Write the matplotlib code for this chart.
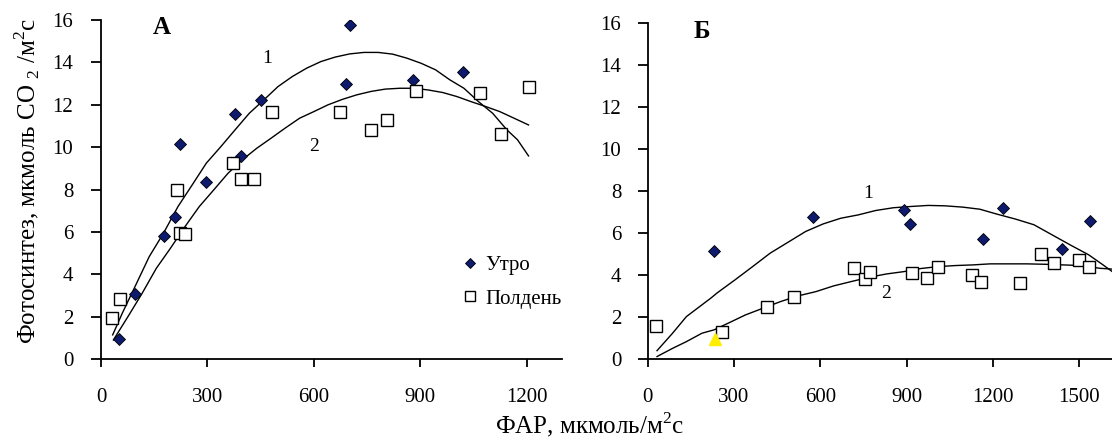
import matplotlib
matplotlib.use('Agg')
import matplotlib.pyplot as plt

plt.rcParams['font.family'] = ['Liberation Serif', 'DejaVu Serif']
plt.rcParams['mathtext.fontset'] = 'custom'
plt.rcParams['mathtext.rm'] = 'Liberation Serif'

# Панель А: утро (ромбы) и полдень (квадраты)
a_morning_x = [50, 96, 178, 209, 224, 296, 378, 395, 452, 691, 701, 879, 1020]
a_morning_y = [0.96, 3.07, 5.83, 6.71, 10.16, 8.35, 11.56, 9.58, 12.23, 12.96, 15.74, 13.16, 13.55]
a_noon_x = [30, 53, 214, 222, 238, 373, 395, 430, 482, 673, 761, 806, 887, 1069, 1127, 1205]
a_noon_y = [1.93, 2.86, 8.0, 5.97, 5.91, 9.25, 8.49, 8.49, 11.67, 11.67, 10.79, 11.3, 12.66, 12.55, 10.6, 12.86]

# линии тренда
a_curve1_x = [33, 60, 96, 136, 176, 217, 257, 297, 338, 378, 418, 459, 499, 539, 580, 620,
              660, 701, 741, 781, 822, 862, 902, 943, 983, 1023, 1064, 1104, 1144, 1174, 1205]
a_curve1_y = [1.15, 2.17, 3.43, 4.84, 5.94, 7.2, 8.22, 9.25, 10.03, 10.82, 11.6, 12.23, 12.86, 13.33, 13.73, 14.04,
              14.25, 14.4, 14.47, 14.47, 14.39, 14.2, 13.96, 13.65, 13.18, 12.78, 12.15, 11.6, 10.82, 10.35, 9.59]
a_curve2_x = [35, 76, 116, 156, 196, 237, 277, 318, 358, 398, 439, 479, 519, 560, 600,
              640, 681, 721, 761, 801, 842, 882, 922, 963, 1003, 1043, 1084, 1124, 1164, 1205]
a_curve2_y = [0.91, 2.01, 3.11, 4.29, 5.24, 6.26, 7.2, 7.99, 8.77, 9.4, 9.95, 10.42, 10.9, 11.37, 11.68,
              12.0, 12.26, 12.47, 12.63, 12.74, 12.78, 12.78, 12.7, 12.58, 12.39, 12.15, 11.92, 11.68, 11.37, 11.05]

# Панель Б
b_morning_x = [231, 576, 890, 912, 1164, 1235, 1439, 1538]
b_morning_y = [5.13, 6.78, 7.11, 6.43, 5.7, 7.19, 5.24, 6.6]
b_noon_x = [30, 257, 415, 509, 718, 756, 774, 918, 970, 1008, 1127, 1157, 1294, 1365, 1412, 1500, 1532]
b_noon_y = [1.59, 1.29, 2.51, 2.97, 4.32, 3.81, 4.17, 4.1, 3.89, 4.4, 4.0, 3.7, 3.63, 5.02, 4.57, 4.73, 4.41]
b_extra_x = [234]
b_extra_y = [0.95]

b_curve1_x = [33, 87, 135, 189, 219, 243, 304, 365, 426, 487, 549, 610, 671, 732, 793, 854,
              915, 975, 1034, 1094, 1154, 1215, 1278, 1342, 1405, 1468, 1532, 1582, 1614]
b_curve1_y = [0.41, 1.24, 2.03, 2.59, 2.9, 3.17, 3.78, 4.41, 5.05, 5.56, 6.08, 6.44, 6.71, 6.87, 7.08, 7.21,
              7.27, 7.32, 7.3, 7.24, 7.14, 6.9, 6.67, 6.4, 5.92, 5.44, 4.97, 4.49, 4.17]
b_curve2_x = [33, 87, 135, 189, 231, 279, 340, 401, 463, 524, 585, 646, 708, 769, 830,
              890, 950, 1010, 1070, 1130, 1190, 1253, 1316, 1380, 1443, 1506, 1570, 1614]
b_curve2_y = [0.13, 0.52, 0.84, 1.24, 1.4, 1.71, 2.11, 2.43, 2.75, 3.02, 3.22, 3.49, 3.7, 3.9, 4.06,
              4.17, 4.32, 4.41, 4.46, 4.49, 4.54, 4.54, 4.54, 4.52, 4.49, 4.46, 4.33, 4.29]

yticks = [0, 2, 4, 6, 8, 10, 12, 14, 16]

fig = plt.figure(figsize=(11.12, 4.41), dpi=100)
ax1 = fig.add_axes([0.0908, 0.1853, 0.4148, 0.7694])
ax2 = fig.add_axes([0.5823, 0.1853, 0.4177, 0.7626])

diamond = dict(marker='D', ms=6.5, mfc='#0d1a6e', mec='black', mew=0.6, ls='none')
square = dict(marker='s', ms=8.5, mfc='white', mec='black', mew=1.0, ls='none')

def style(ax, xmax, xticks, ypad):
    ax.set_xlim(0, xmax)
    ax.set_ylim(0, 16)
    ax.set_xticks(xticks)
    ax.set_yticks(yticks)
    for s in ['top', 'right']:
        ax.spines[s].set_visible(False)
    for s in ['left', 'bottom']:
        ax.spines[s].set_linewidth(1.3)
    ax.tick_params(axis='y', direction='out', length=7, width=1.3, pad=ypad, labelsize=15)
    ax.tick_params(axis='x', direction='out', length=6, width=1.3, pad=15, labelsize=15)

# А
ax1.plot(a_curve1_x, a_curve1_y, color='black', lw=1.0)
ax1.plot(a_curve2_x, a_curve2_y, color='black', lw=1.0)
ax1.plot(a_morning_x, a_morning_y, label='Утро', **diamond)
ax1.plot(a_noon_x, a_noon_y, label='Полдень', **square)
style(ax1, 1300, [0, 300, 600, 900, 1200], 13)
ax1.text(467, 14.2, '1', fontsize=14, ha='center', va='center')
ax1.text(600, 10.03, '2', fontsize=14, ha='center', va='center')
ax1.text(171, 15.65, 'А', fontsize=18, fontweight='bold', ha='center', va='center')
ax1.legend(frameon=False, loc='upper left', bbox_to_anchor=(0.782, 0.305),
           borderpad=0, borderaxespad=0, handlelength=0.8, handletextpad=0.35,
           labelspacing=0.65, fontsize=15, markerscale=0.85)

# Б
ax2.plot(b_curve1_x, b_curve1_y, color='black', lw=1.0, clip_on=False)
ax2.plot(b_curve2_x, b_curve2_y, color='black', lw=1.0, clip_on=False)
ax2.plot(b_morning_x, b_morning_y, **diamond)
ax2.plot(b_noon_x, b_noon_y, **square)
ax2.plot(b_extra_x, b_extra_y, marker='^', ms=8, color='#ffee00', ls='none')
style(ax2, 1613, [0, 300, 600, 900, 1200, 1500], 12)
ax2.text(766, 7.87, '1', fontsize=14, ha='center', va='center')
ax2.text(827, 3.14, '2', fontsize=14, ha='center', va='center')
ax2.text(188, 15.6, 'Б', fontsize=18, fontweight='bold', ha='center', va='center')

fig.text(0.024, 0.59, 'Фотосинтез, мкмоль CO $_\\mathregular{2}$ /м$^\\mathregular{2}$с',
         rotation=90, ha='center', va='center', fontsize=18)
fig.text(0.53, 0.038, 'ФАР, мкмоль/м$^\\mathregular{2}$с', ha='center', va='center', fontsize=18)

fig.savefig('out.png', dpi=100)
